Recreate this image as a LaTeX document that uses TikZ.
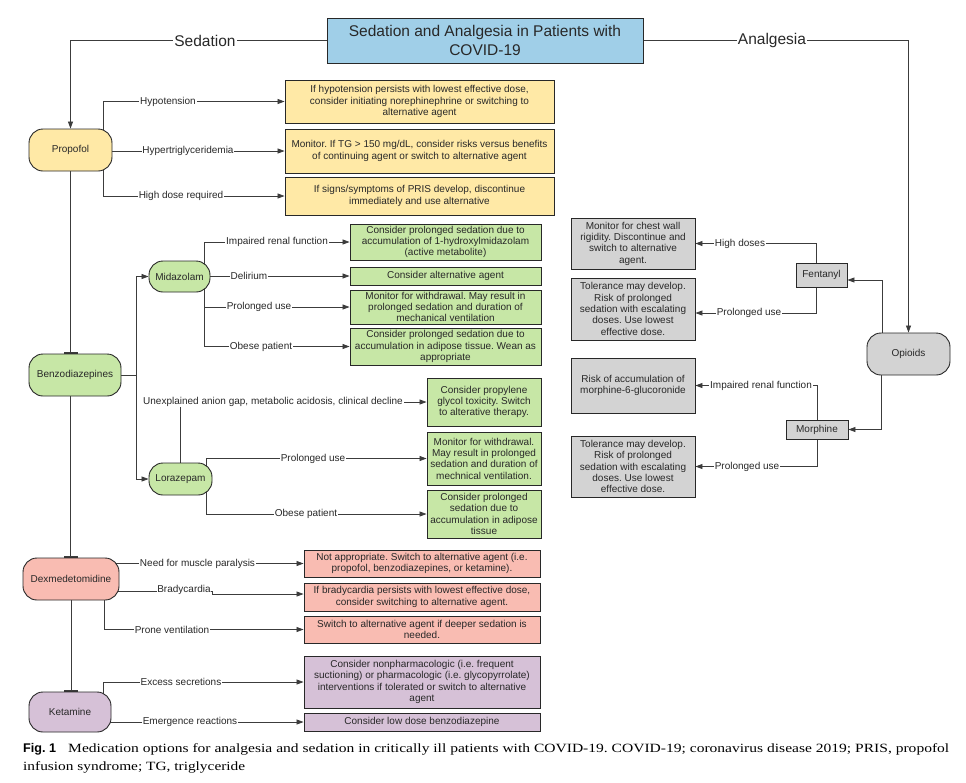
\documentclass[tikz,border=0pt]{standalone}
\usepackage{fontspec}
\usepackage{graphicx}
\setmainfont{Liberation Sans}
\newfontfamily\capserif{Liberation Serif}
\usetikzlibrary{arrows.meta,backgrounds}
\frenchspacing

\definecolor{titlebl}{RGB}{160,207,232}
\definecolor{ylw}{RGB}{255,233,166}
\definecolor{grn}{RGB}{199,231,166}
\definecolor{rd}{RGB}{249,188,178}
\definecolor{prp}{RGB}{214,193,215}
\definecolor{gry}{RGB}{211,211,211}
\definecolor{ink}{RGB}{40,40,40}
\definecolor{lnc}{RGB}{60,60,60}

\tikzset{
 box/.style={draw=ink, line width=0.9pt, inner sep=1pt, align=center, text=ink, font=\fontsize{10}{11.3}\selectfont},
 drug/.style={box, rounded corners=14pt},
 sz/.style 2 args={minimum width=#1pt, minimum height=#2pt},
 conn/.style={draw=lnc, line width=0.8pt, -{Triangle[length=7pt,width=5pt]}},
 plain/.style={draw=lnc, line width=0.8pt},
 tee/.style={draw=lnc, line width=0.8pt, -{Bar[width=14pt,line width=1.4pt]}},
 lbl/.style={fill=white, inner sep=0.8pt, text=ink, font=\fontsize{10}{11}\selectfont},
 big/.style={fill=white, inner sep=1pt, text=ink, font=\fontsize{15.5}{19}\selectfont},
 capt/.style={anchor=base west, inner sep=0pt, text=black},
}

\begin{document}
\begin{tikzpicture}[x=1pt,y=-1pt]
\useasboundingbox (0,0) rectangle (966,782);

% title
\node[box, fill=titlebl, sz={316}{45}, font=\fontsize{15.5}{19}\selectfont] (title) at (485,40.5) {Sedation and Analgesia in Patients with\\COVID-19};

% drug nodes
\node[drug, fill=ylw, sz={83}{42}] (prop) at (70.5,150) {Propofol};
\node[drug, fill=grn, sz={92}{42}] (benz) at (75,375) {Benzodiazepines};
\node[drug, fill=grn, sz={61}{31}] (midaz) at (179.5,276.5) {Midazolam};
\node[drug, fill=grn, sz={63}{32}] (loraz) at (180.5,479) {Lorazepam};
\node[drug, fill=rd, sz={96}{42}] (dex) at (71,579) {Dexmedetomidine};
\node[drug, fill=prp, sz={82}{40}] (ket) at (70,712) {Ketamine};
\node[drug, fill=gry, sz={83}{42}] (opi) at (908.5,354) {Opioids};
\node[box, fill=gry, sz={51}{24}] (fent) at (821.5,275) {Fentanyl};
\node[box, fill=gry, sz={62}{19}] (morph) at (817,429.5) {Morphine};

% propofol outcomes
\node[box, fill=ylw, sz={269}{43}] (y1) at (419.5,101.5) {If hypotension persists with lowest effective dose,\\consider initiating norephinephrine or switching to\\alternative agent};
\node[box, fill=ylw, sz={269}{44}] (y2) at (419.5,151) {Monitor. If TG > 150 mg/dL, consider risks versus benefits\\of continuing agent or switch to alternative agent};
\node[box, fill=ylw, sz={269}{38}] (y3) at (419.5,196) {If signs/symptoms of PRIS develop, discontinue\\immediately and use alternative};

% midazolam outcomes
\node[box, fill=grn, sz={191}{36}] (g1) at (445.5,242) {Consider prolonged sedation due to\\accumulation of 1-hydroxylmidazolam\\(active metabolite)};
\node[box, fill=grn, sz={191}{18}] (g2) at (445.5,276) {Consider alternative agent};
\node[box, fill=grn, sz={191}{34}] (g3) at (445.5,307) {Monitor for withdrawal. May result in\\prolonged sedation and duration of\\mechanical ventilation};
\node[box, fill=grn, sz={191}{37}] (g4) at (445.5,346.5) {Consider prolonged sedation due to\\accumulation in adipose tissue. Wean as\\appropriate};

% lorazepam outcomes
\node[box, fill=grn, sz={114}{48}] (g5) at (484,402) {Consider propylene\\glycol toxicity. Switch\\to alterative therapy.};
\node[box, fill=grn, sz={114}{53}] (g6) at (484,458.5) {Monitor for withdrawal.\\May result in prolonged\\sedation and duration of\\mechnical ventilation.};
\node[box, fill=grn, sz={114}{48}] (g7) at (484,514) {Consider prolonged\\sedation due to\\accumulation in adipose\\tissue};

% dexmedetomidine outcomes
\node[box, fill=rd, sz={236}{27}] (r1) at (422,563.5) {Not appropriate. Switch to alternative agent (i.e.\\propofol, benzodiazepines, or ketamine).};
\node[box, fill=rd, sz={236}{28}] (r2) at (422,597) {If bradycardia persists with lowest effective dose,\\consider switching to alternative agent.};
\node[box, fill=rd, sz={236}{27}] (r3) at (422,629.5) {Switch to alternative agent if deeper sedation is\\needed.};

% ketamine outcomes
\node[box, fill=prp, sz={236}{52}] (p1) at (422,682) {Consider nonpharmacologic (i.e. frequent\\suctioning) or pharmacologic (i.e. glycopyrrolate)\\interventions if tolerated or switch to alternative\\agent};
\node[box, fill=prp, sz={236}{18}] (p2) at (422,722) {Consider low dose benzodiazepine};

% opioid outcomes
\node[box, fill=gry, sz={124}{51}] (gA) at (633,243.5) {Monitor for chest wall\\rigidity. Discontinue and\\switch to alternative\\agent.};
\node[box, fill=gry, sz={124}{62}] (gB) at (633,309) {Tolerance may develop.\\Risk of prolonged\\sedation with escalating\\doses. Use lowest\\effective dose.};
\node[box, fill=gry, sz={124}{55}] (gC) at (633,385.5) {Risk of accumulation of\\morphine-6-glucoronide};
\node[box, fill=gry, sz={124}{61}] (gD) at (633,466.5) {Tolerance may develop.\\Risk of prolonged\\sedation with escalating\\doses. Use lowest\\effective dose.};

\begin{scope}[on background layer]
\fill[white] (0,0) rectangle (966,782);
% top branches
\draw[conn] (title.west) -| (prop.north) node[big] at (205,40.5) {Sedation};
\draw[conn] (title.east) -| (opi.north) node[big] at (772,40.5) {Analgesia};

% propofol
\draw[conn] ([xshift=32.5pt]prop.center) |- (y1.west) node[lbl] at (168,101.5) {Hypotension};
\draw[conn] (prop.center |- y2.west) -- (y2.west) node[lbl] at (188,151) {Hypertriglyceridemia};
\draw[conn] ([xshift=32.5pt]prop.center) |- (y3.west) node[lbl] at (181,196) {High dose required};
\draw[tee] (prop.south) -- (prop.south |- benz.north);

% benzodiazepines
\coordinate (bj) at (136,375);
\draw[plain] (benz.center) -- (bj);
\draw[conn] (bj) |- (midaz.west);
\draw[conn] (bj) |- (loraz.west);
\draw[tee] (benz.south -| prop.south) -- (prop.south |- dex.north);

% midazolam
\draw[conn] ([xshift=24.5pt]midaz.center) |- (g1.west) node[lbl] at (277,242) {Impaired renal function};
\draw[conn] (midaz.center |- g2.west) -- (g2.west) node[lbl] at (249,276) {Delirium};
\draw[conn] ([xshift=24.5pt]midaz.center) |- (g3.west) node[lbl] at (259,307) {Prolonged use};
\draw[conn] ([xshift=24.5pt]midaz.center) |- (g4.west) node[lbl] at (261,346.5) {Obese patient};

% lorazepam
\draw[conn] (loraz.center) |- (g5.west) node[lbl] at (273,402) {Unexplained anion gap, metabolic acidosis, clinical decline};
\draw[conn] ([xshift=25.5pt]loraz.center) |- (g6.west) node[lbl] at (313,458.5) {Prolonged use};
\draw[conn] ([xshift=25.5pt]loraz.center) |- (g7.west) node[lbl] at (306,514) {Obese patient};

% dexmedetomidine
\draw[conn] (dex.center |- r1.west) -- (r1.west) node[lbl] at (197.5,563.5) {Need for muscle paralysis};
\coordinate (bk1) at (212,591);
\coordinate (bk2) at (212,594);
\draw[conn] (dex.center |- bk1) -- (bk1) -- (bk2) -- (bk2 -| r2.west) node[lbl] at (184,590) {Bradycardia};
\draw[conn] ([xshift=33pt]dex.center) |- (r3.west) node[lbl] at (172,629.5) {Prone ventilation};
\draw[tee] (dex.south) -- (dex.south |- ket.north);

% ketamine
\draw[conn] ([xshift=33pt]ket.center) |- (p1.west) node[lbl] at (181,682) {Excess secretions};
\draw[conn] (ket.center |- p2.west) -- (p2.west) node[lbl] at (190,722) {Emergence reactions};

% opioids
\draw[conn] ([xshift=-26.5pt]opi.center) |- ([yshift=-5pt]fent.east);
\draw[conn] ([xshift=-27.5pt]opi.center) |- (morph.east);
\draw[conn] ([xshift=-5.5pt]fent.center) |- (gA.east) node[lbl] at (740,243.5) {High doses};
\draw[conn] ([xshift=-5.5pt]fent.center) |- ([yshift=-4pt]gB.east) node[lbl] at (749,313) {Prolonged use};
\draw[conn] (morph.center) |- (gC.east) node[lbl] at (761,385.5) {Impaired renal function};
\draw[conn] (morph.center) |- (gD.east) node[lbl] at (747,466.5) {Prolonged use};
\end{scope}

% caption
\node[capt, font=\bfseries\fontsize{12.6}{15}\selectfont] (capfig) at (23,752) {Fig. 1};
\node[capt, font=\capserif\fontsize{12.6}{15}\selectfont] (cap1) at (68,752) {\resizebox{881pt}{\height}{Medication options for analgesia and sedation in critically ill patients with COVID-19. COVID-19; coronavirus disease 2019; PRIS, propofol}};
\node[capt, font=\capserif\fontsize{12.6}{15}\selectfont] (cap2) at (23,770) {\resizebox{222pt}{\height}{infusion syndrome; TG, triglyceride}};
\end{tikzpicture}
\end{document}
